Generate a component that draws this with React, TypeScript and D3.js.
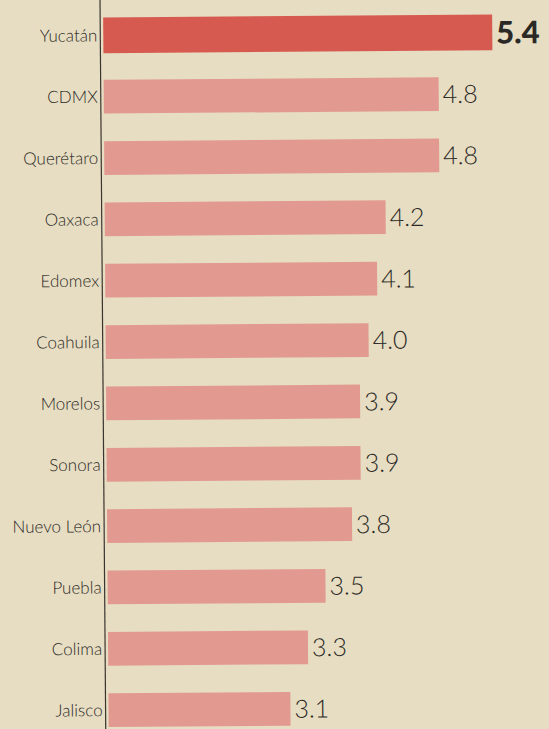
import React, { useEffect, useRef } from "react";
import * as d3 from "d3";

const states = [
  "Yucatán",
  "CDMX",
  "Querétaro",
  "Oaxaca",
  "Edomex",
  "Coahuila",
  "Morelos",
  "Sonora",
  "Nuevo León",
  "Puebla",
  "Colima",
  "Jalisco",
];
const values = [5.4, 4.8, 4.8, 4.2, 4.1, 4.0, 3.9, 3.9, 3.8, 3.5, 3.3, 3.1];

const App: React.FC = () => {
  const svgRef = useRef<SVGSVGElement | null>(null);

  useEffect(() => {
    const width = 549;
    const height = 729;
    const margin = { top: 5, left: 103 };

    const svg = d3.select(svgRef.current);
    svg.selectAll("*").remove();
    svg.attr("width", width).attr("height", height);

    // paper background
    svg.append("rect").attr("width", width).attr("height", height).attr("fill", "#e7ddc2");

    // the scan is slightly tilted
    const g = svg.append("g").attr("transform", "rotate(-0.45 100 0)");

    // bars don't start at zero in the original print
    const x = d3.scaleLinear().domain([1.08, 5.4]).range([margin.left, 492]);
    const y = d3
      .scaleBand()
      .domain(states)
      .range([margin.top, margin.top + 61.3 * states.length])
      .paddingInner(0.45)
      .paddingOuter(0.22);

    g.selectAll(".bar")
      .data(states)
      .enter()
      .append("rect")
      .attr("class", "bar")
      .attr("x", margin.left)
      .attr("y", (d, i) => y(d)! - (i === 0 ? 1 : 0))
      .attr("width", (d, i) => x(values[i]) - margin.left)
      .attr("height", (d, i) => y.bandwidth() + (i === 0 ? 2 : 0))
      .attr("fill", (d, i) => (i === 0 ? "#d75a50" : "#e29a90"));

    // vertical axis line
    g.append("line")
      .attr("x1", 100)
      .attr("x2", 100)
      .attr("y1", 0)
      .attr("y2", height + 5)
      .attr("stroke", "#3a3530")
      .attr("stroke-width", 1.2);

    g.selectAll(".label")
      .data(states)
      .enter()
      .append("text")
      .attr("class", "label")
      .attr("x", 97)
      .attr("y", (d) => y(d)! + y.bandwidth() / 2)
      .attr("dy", "0.35em")
      .attr("text-anchor", "end")
      .attr("font-family", "Lato, sans-serif")
      .attr("font-size", 17)
      .attr("font-weight", 300)
      .attr("fill", "#2b2926")
      .text((d) => d);

    g.selectAll(".value")
      .data(states)
      .enter()
      .append("text")
      .attr("class", "value")
      .attr("x", (d, i) => x(values[i]) + (i === 0 ? 4 : 4))
      .attr("y", (d) => y(d)! + y.bandwidth() / 2)
      .attr("dy", "0.36em")
      .attr("font-family", "Lato, sans-serif")
      .attr("font-size", (d, i) => (i === 0 ? 31 : 25))
      .attr("font-weight", (d, i) => (i === 0 ? 900 : 300))
      .attr("fill", "#2b2926")
      .text((d, i) => values[i].toFixed(1));
  }, []);

  return (
    <div style={{ position: "fixed", top: 0, left: 0 }}>
      <svg ref={svgRef} style={{ display: "block" }}></svg>
    </div>
  );
};

export default App;
